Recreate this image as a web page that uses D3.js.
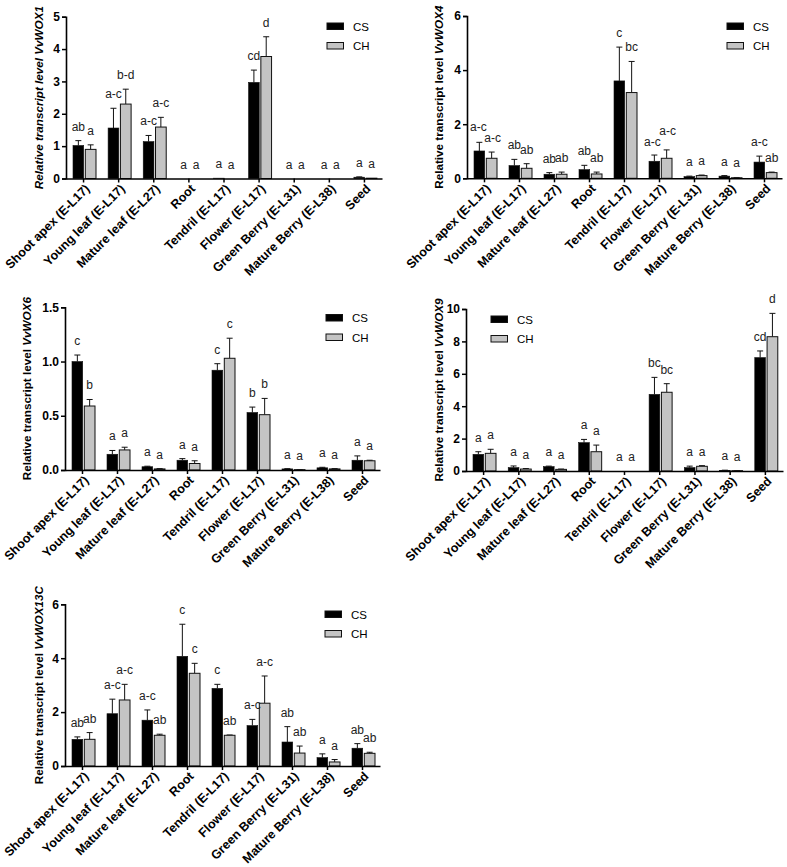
<!DOCTYPE html>
<html><head><meta charset="utf-8">
<script src="https://cdn.jsdelivr.net/npm/d3@7"></script>
<style>
body{margin:0;background:#fff;}
svg{display:block;font-family:Arial,"Liberation Sans",sans-serif;}
</style></head>
<body><svg id="chart" width="787" height="867"></svg>
<script>
// ---------- DATA ----------
const categories = ["Shoot apex (E-L17)","Young leaf (E-L17)","Mature leaf (E-L27)","Root","Tendril (E-L17)","Flower (E-L17)","Green Berry (E-L31)","Mature Berry (E-L38)","Seed"];
const seriesNames = ["CS","CH"];

const wox1CS    = [1.02,1.56,1.14,0,0.01,2.97,0,0,0.04];
const wox1CSerr = [0.15,0.61,0.19,0,0,0.38,0,0,0.01];
const wox1CH    = [0.90,2.30,1.59,0,0,3.77,0,0,0.01];
const wox1CHerr = [0.14,0.46,0.30,0,0,0.61,0,0,0];
const wox1CSlet = ["ab","a-c","a-c","a","a","cd","a","a","a"];
const wox1CHlet = ["a","b-d","a-c","a","a","d","a","a","a"];
const wox1Ticks = [0,1,2,3,4,5];

const wox4CS    = [1.01,0.47,0.15,0.32,3.60,0.63,0.06,0.08,0.60];
const wox4CSerr = [0.32,0.23,0.06,0.16,1.25,0.23,0.02,0.02,0.22];
const wox4CH    = [0.74,0.37,0.15,0.16,3.17,0.74,0.10,0.02,0.21];
const wox4CHerr = [0.23,0.17,0.08,0.07,1.15,0.31,0.02,0.01,0.02];
const wox4CSlet = ["a-c","ab","ab","ab","c","a-c","a","a","a-c"];
const wox4CHlet = ["a-c","ab","ab","ab","bc","a-c","a","a","ab"];
const wox4Ticks = [0,2,4,6];

const wox6CS    = [1.00,0.145,0.03,0.09,0.92,0.53,0.01,0.02,0.09];
const wox6CSerr = [0.06,0.035,0.005,0.015,0.06,0.05,0.002,0.005,0.04];
const wox6CH    = [0.59,0.185,0.01,0.06,1.03,0.51,0.003,0.01,0.085];
const wox6CHerr = [0.06,0.025,0.003,0.025,0.185,0.15,0.001,0.003,0.005];
const wox6CSlet = ["c","a","a","a","c","b","a","a","a"];
const wox6CHlet = ["b","a","a","a","c","b","a","a","a"];
const wox6Ticks = [0,0.5,1.0,1.5];

const wox9CS    = [1.03,0.21,0.27,1.75,0,4.73,0.21,0.04,7.00];
const wox9CSerr = [0.16,0.10,0.03,0.20,0,1.05,0.09,0.01,0.41];
const wox9CH    = [1.09,0.12,0.10,1.19,0,4.86,0.29,0.02,8.29];
const wox9CHerr = [0.25,0.03,0.02,0.41,0,0.53,0.04,0.005,1.44];
const wox9CSlet = ["a","a","a","a","a","bc","a","a","cd"];
const wox9CHlet = ["a","a","a","a","a","bc","a","a","d"];
const wox9Ticks = [0,2,4,6,8,10];

const wox13CS    = [0.99,1.94,1.70,4.07,2.88,1.50,0.89,0.31,0.66];
const wox13CSerr = [0.09,0.54,0.38,1.19,0.15,0.23,0.57,0.14,0.17];
const wox13CH    = [0.99,2.45,1.14,3.44,1.14,2.33,0.48,0.15,0.47];
const wox13CHerr = [0.25,0.58,0.04,0.37,0.01,1.01,0.26,0.09,0.04];
const wox13CSlet = ["ab","a-c","a-c","c","c","a-c","ab","a","ab"];
const wox13CHlet = ["ab","a-c","ab","c","ab","a-c","ab","a","ab"];
const wox13Ticks = [0,2,4,6];

// ---------- LAYOUT ----------
const panels = [
  {gene:"VvWOX1", allItalic:true, cs:wox1CS, csE:wox1CSerr, ch:wox1CH, chE:wox1CHerr, csL:wox1CSlet, chL:wox1CHlet, ticks:wox1Ticks, fmt:d3.format("d"),
   x0:66, x1:382, yTop:16.7, yBot:178.5, titleX:43, legX:327, legY:23, nudge:{}},
  {gene:"VvWOX4", cs:wox4CS, csE:wox4CSerr, ch:wox4CH, chE:wox4CHerr, csL:wox4CSlet, chL:wox4CHlet, ticks:wox4Ticks, fmt:d3.format("d"),
   x0:467, x1:782, yTop:16, yBot:178.3, titleX:443, legX:727, legY:23, nudge:{"CS5":[-2,1],"CH5":[1,-5],"CS0":[-1,-1],"CH0":[1,0]}},
  {gene:"VvWOX6", cs:wox6CS, csE:wox6CSerr, ch:wox6CH, chE:wox6CHerr, csL:wox6CSlet, chL:wox6CHlet, ticks:wox6Ticks, fmt:d3.format(".1f"),
   x0:65, x1:380, yTop:307.3, yBot:470, titleX:31, legX:326, legY:314.5, nudge:{}},
  {gene:"VvWOX9", cs:wox9CS, csE:wox9CSerr, ch:wox9CH, chE:wox9CHerr, csL:wox9CSlet, chL:wox9CHlet, ticks:wox9Ticks, fmt:d3.format("d"),
   x0:466, x1:783, yTop:309, yBot:471, titleX:443, legX:491, legY:316, nudge:{}},
  {gene:"VvWOX13C", cs:wox13CS, csE:wox13CSerr, ch:wox13CH, chE:wox13CHerr, csL:wox13CSlet, chL:wox13CHlet, ticks:wox13Ticks, fmt:d3.format("d"),
   x0:65, x1:380, yTop:604.3, yBot:766, titleX:43, legX:325, legY:611, nudge:{}}
];

const svg = d3.select("#chart");
const fills = {CS:"#000000", CH:"#c4c4c4"};

panels.forEach(p => {
  const g = svg.append("g");
  const yMax = p.ticks[p.ticks.length-1];
  const x = d3.scaleBand().domain(categories).range([p.x0, p.x1]);
  const xs = d3.scaleBand().domain(seriesNames).range([7, 30]).paddingInner(0.13);
  const y = d3.scaleLinear().domain([0, yMax]).range([p.yBot, p.yTop]);

  const rows = [];
  categories.forEach((c,i) => {
    rows.push({cat:c, i:i, s:"CS", v:p.cs[i], e:p.csE[i], l:p.csL[i]});
    rows.push({cat:c, i:i, s:"CH", v:p.ch[i], e:p.chE[i], l:p.chL[i]});
  });
  const nd = d => p.nudge[d.s + d.i] || [0,0];

  // error bars
  const eb = g.append("g");
  rows.forEach(r => {
    if (r.e <= 0) return;
    const cx = x(r.cat) + xs(r.s) + xs.bandwidth()/2;
    eb.append("line").attr("x1",cx).attr("x2",cx).attr("y1",y(r.v)).attr("y2",y(r.v+r.e))
      .attr("stroke","#111").attr("stroke-width",1);
    eb.append("line").attr("x1",cx-3).attr("x2",cx+3).attr("y1",y(r.v+r.e)).attr("y2",y(r.v+r.e))
      .attr("stroke","#111").attr("stroke-width",1);
  });

  // bars
  g.append("g").selectAll("rect").data(rows).join("rect")
    .attr("x", d => x(d.cat) + xs(d.s))
    .attr("width", xs.bandwidth())
    .attr("y", d => y(d.v))
    .attr("height", d => Math.max(0, y(0) - y(d.v)))
    .attr("fill", d => fills[d.s])
    .attr("stroke", "#111")
    .attr("stroke-width", d => d.s === "CH" ? 1 : 0.6);

  // letters
  g.append("g").selectAll("text").data(rows).join("text")
    .attr("x", d => x(d.cat) + xs(d.s) + xs.bandwidth()/2 + nd(d)[0])
    .attr("y", d => y(d.v + d.e) - 10 + nd(d)[1])
    .attr("text-anchor","middle")
    .attr("font-size", 12)
    .attr("fill","#222")
    .text(d => d.l);

  // y axis
  const ya = g.append("g").attr("transform",`translate(${p.x0},0)`)
    .call(d3.axisLeft(y).tickValues(p.ticks).tickFormat(p.fmt).tickSize(4).tickPadding(2));
  ya.select(".domain").attr("stroke","#000").attr("stroke-width",1.6);
  ya.selectAll(".tick line").attr("stroke","#000").attr("stroke-width",1.5);
  ya.selectAll(".tick text").attr("font-size",12).attr("font-weight","bold").attr("fill","#000")
    .attr("font-family","Arial, 'Liberation Sans', sans-serif");

  // x axis
  const xa = g.append("g").attr("transform",`translate(0,${p.yBot})`)
    .call(d3.axisBottom(x).tickSize(4).tickSizeOuter(0).tickFormat(""));
  xa.select(".domain").attr("stroke","#000").attr("stroke-width",1.6);
  xa.selectAll(".tick line").attr("stroke","#000").attr("stroke-width",1.5);
  g.append("g").selectAll("text").data(categories).join("text")
    .attr("transform", d => `translate(${x(d) + x.bandwidth()/2 + 7},${p.yBot + 11}) rotate(-45)`)
    .attr("text-anchor","end")
    .attr("font-size",12.5)
    .attr("font-weight","bold")
    .attr("fill","#000")
    .text(d => d);

  // y title
  const t = g.append("text")
    .attr("transform",`translate(${p.titleX},${(p.yTop+p.yBot)/2}) rotate(-90)`)
    .attr("text-anchor","middle")
    .attr("font-size",11.7)
    .attr("font-weight","bold")
    .attr("fill","#000");
  if (p.allItalic) {
    t.attr("font-style","italic").text("Relative transcript level " + p.gene);
  } else {
    t.append("tspan").text("Relative transcript level ");
    t.append("tspan").attr("font-style","italic").text(p.gene);
  }

  // legend
  const lg = g.append("g").attr("transform",`translate(${p.legX},${p.legY})`);
  seriesNames.forEach((s,i) => {
    lg.append("rect").attr("x",0).attr("y",i*19.5).attr("width",16.5).attr("height",6.5)
      .attr("fill",fills[s]).attr("stroke","#111").attr("stroke-width",1);
    lg.append("text").attr("x",26).attr("y",i*19.5+7.5).attr("font-size",11.5).attr("fill","#000").text(s);
  });
});
</script>
</body></html>
